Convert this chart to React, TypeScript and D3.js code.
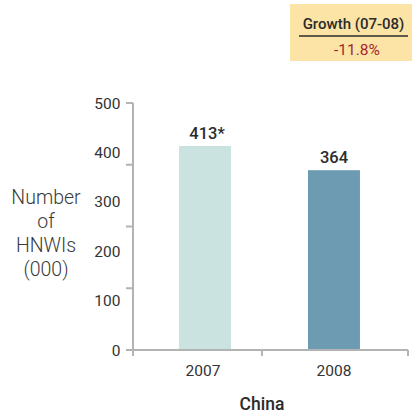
import React from "react";
import * as d3 from "d3";

// HNWI population, China (thousands)
const years = ["2007", "2008"];
const values = [413, 364];
const valueLabels = ["413*", "364"];
const barColors = ["#cbe3e0", "#6d9bb1"];
const yTickLabels = [0, 100, 200, 300, 400, 500];
const yTickMarks = [0, 125, 250, 375, 500];
const yTitleLines = ["Number", "of", "HNWIs", "(000)"];
const growthTitle = "Growth (07-08)";
const growthValue = "-11.8%";
const countryName = "China";

const W = 414;
const H = 414;
const axisColor = "#b3b3b3";
const textColor = "#333";
const font = "Roboto, 'DejaVu Sans', sans-serif";

export default function App() {
  const left = 133;
  const right = 408;
  const top = 103;
  const bottom = 350;

  const x = d3
    .scaleBand<string>()
    .domain(years)
    .range([left, right - 2])
    .paddingInner(0.597)
    .paddingOuter(0.357);

  const y = d3.scaleLinear().domain([0, 500]).range([bottom, top]);

  const xTicks = [left, left + x.step(), right];

  return (
    <svg
      width={W}
      height={H}
      style={{ position: "absolute", left: 0, top: 0, fontFamily: font }}
    >
      <rect width={W} height={H} fill="#fff" />

      {/* growth callout */}
      <rect x={290} y={4} width={122} height={57} fill="#fce3a6" />
      <text
        x={353.5}
        y={29}
        textAnchor="middle"
        fontSize={15}
        fontWeight={500}
        fill="#2b2b2b"
      >
        {growthTitle}
      </text>
      <line x1={299} x2={408} y1={36} y2={36} stroke="#2b2b2b" strokeWidth={1.3} />
      <text
        x={357}
        y={55}
        textAnchor="middle"
        fontSize={15.5}
        fontWeight={400}
        fill="#a0282a"
      >
        {growthValue}
      </text>

      {/* bars */}
      {years.map((yr, i) => (
        <g key={yr}>
          <rect
            x={x(yr)}
            y={y(values[i])}
            width={x.bandwidth()}
            height={y(0) - y(values[i])}
            fill={barColors[i]}
          />
          <text
            x={(x(yr) as number) + x.bandwidth() / 2 + (i === 0 ? 2 : 0)}
            y={y(values[i]) - 7}
            textAnchor="middle"
            fontSize={16.5}
            fontWeight={500}
            fill="#2b2b2b"
          >
            {valueLabels[i]}
          </text>
          <text
            x={(x(yr) as number) + x.bandwidth() / 2 - (i === 0 ? 2 : 0)}
            y={376}
            textAnchor="middle"
            fontSize={15.5}
            fill={textColor}
          >
            {yr}
          </text>
        </g>
      ))}

      {/* y axis */}
      <line x1={left} x2={left} y1={y(500)} y2={bottom + 6} stroke={axisColor} strokeWidth={2} />
      {yTickMarks.map((t) => (
        <line
          key={t}
          x1={left - 7}
          x2={left}
          y1={y(t)}
          y2={y(t)}
          stroke={axisColor}
          strokeWidth={2}
        />
      ))}
      {yTickLabels.map((t) => (
        <text
          key={t}
          x={120.5}
          y={y(t) + 5.5}
          textAnchor="end"
          fontSize={15.5}
          fill={textColor}
        >
          {t}
        </text>
      ))}

      {/* x axis */}
      <line x1={left - 7} x2={right} y1={bottom} y2={bottom} stroke={axisColor} strokeWidth={2} />
      {xTicks.map((t, i) => (
        <line
          key={i}
          x1={t}
          x2={t}
          y1={bottom}
          y2={bottom + 6}
          stroke={axisColor}
          strokeWidth={2}
        />
      ))}

      {/* axis titles */}
      <text
        x={46}
        y={0}
        textAnchor="middle"
        fontSize={19.5}
        fontWeight={300}
        fill="#3a3a3a"
      >
        {yTitleLines.map((l, i) => (
          <tspan key={l} x={46} y={204 + i * 24}>
            {l}
          </tspan>
        ))}
      </text>
      <text
        x={262}
        y={410}
        textAnchor="middle"
        fontSize={17.5}
        fontWeight={500}
        fill="#2b2b2b"
      >
        {countryName}
      </text>
    </svg>
  );
}
